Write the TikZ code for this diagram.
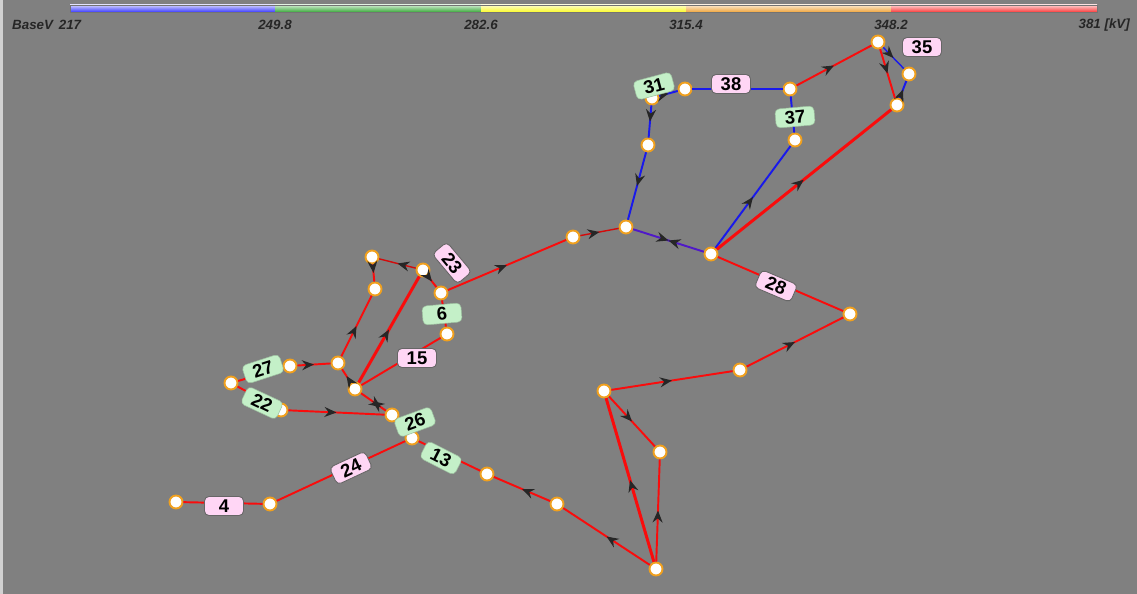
\documentclass[tikz,border=0pt]{standalone}
\usepackage{fontspec}
\setmainfont{Liberation Sans}
\usetikzlibrary{arrows.meta, decorations.markings}

\definecolor{bggray}{RGB}{128,128,128}
\definecolor{busring}{RGB}{240,160,30}
\definecolor{linered}{RGB}{250,12,12}
\definecolor{lineblue}{RGB}{25,25,235}
\definecolor{linepurple}{RGB}{80,25,200}
\definecolor{tagpink}{RGB}{255,214,245}
\definecolor{taggreen}{RGB}{196,240,200}
\definecolor{barblue}{RGB}{60,60,255}
\definecolor{bargreen}{RGB}{60,170,60}
\definecolor{baryellow}{RGB}{250,250,40}
\definecolor{barorange}{RGB}{240,165,60}
\definecolor{barred}{RGB}{250,60,60}

\tikzset{
  bus/.style={circle, draw=busring, fill=white, line width=1.1pt, minimum size=0.26cm, inner sep=0pt},
  redline/.style={linered, line width=1.1pt},
  thickred/.style={linered, line width=1.7pt},
  thinred/.style={linered!85!black, line width=0.8pt},
  blueline/.style={lineblue, line width=1.1pt},
  purpleline/.style={linepurple, line width=1.1pt},
  flow/.style={postaction={decorate}, decoration={markings,
    mark=at position 0.5 with {\arrow[black!85]{Stealth[length=0.24cm, width=0.2cm, inset=0.08cm]}}}},
  flowboth/.style={postaction={decorate}, decoration={markings,
    mark=at position 0.5 with {\arrow[black!85]{Stealth[length=0.24cm, width=0.2cm, inset=0.08cm]}},
    mark=at position 0.5 with {\arrowreversed[black!85]{Stealth[length=0.24cm, width=0.2cm, inset=0.08cm]}}}},
  tag/.style={rounded corners=2.5pt, inner sep=1pt, minimum width=0.78cm, minimum height=0.38cm,
    font=\fontsize{10.5}{11}\selectfont\bfseries},
  pinktag/.style={tag, fill=tagpink, draw=black!60, line width=0.5pt},
  greentag/.style={tag, fill=taggreen, draw=taggreen!80!black, line width=0.3pt},
  scalelabel/.style={font=\fontsize{7.6}{8}\selectfont\bfseries\itshape, text=black!85}
}

\begin{document}
\begin{tikzpicture}[x=0.02cm, y=-0.02cm]
  % background
  \fill[bggray] (0,0) rectangle (1137,594);
  \fill[black!18] (0,0) rectangle (3,594);
  \useasboundingbox (0,0) rectangle (1137,594);

  % voltage scale
  \shade[top color=barblue!25!white, bottom color=barblue] (70,5) rectangle (275,12);
  \shade[top color=bargreen!25!white, bottom color=bargreen] (275,5) rectangle (481,12);
  \shade[top color=baryellow!25!white, bottom color=baryellow] (481,5) rectangle (686,12);
  \shade[top color=barorange!25!white, bottom color=barorange] (686,5) rectangle (891,12);
  \shade[top color=barred!25!white, bottom color=barred] (891,5) rectangle (1097,12);
  \draw[black!55, line width=0.5pt] (70,5) rectangle (1097,12);
  \node[scalelabel, anchor=west] (basev) at (6,25) {BaseV};
  \node[scalelabel] (v1) at (70,25) {217};
  \node[scalelabel] (v2) at (275,25) {249.8};
  \node[scalelabel] (v3) at (481,25) {282.6};
  \node[scalelabel] (v4) at (686,25) {315.4};
  \node[scalelabel] (v5) at (891,25) {348.2};
  \node[scalelabel, anchor=east] (v6) at (1136,25) {381 [kV]};

  % buses
  \node[bus] (n1) at (878,42) {};
  \node[bus] (n2) at (909,74) {};
  \node[bus] (n3) at (897,105) {};
  \node[bus] (n4) at (790,89) {};
  \node[bus] (n5) at (685,89) {};
  \node[bus] (n6) at (652,98) {};
  \node[bus] (n7) at (648,145) {};
  \node[bus] (n8) at (795,140) {};
  \node[bus] (n9) at (626,227) {};
  \node[bus] (n10) at (573,237) {};
  \node[bus] (n11) at (711,254) {};
  \node[bus] (n12) at (850,314) {};
  \node[bus] (n13) at (740,370) {};
  \node[bus] (n14) at (604,391) {};
  \node[bus] (n15) at (660,452) {};
  \node[bus] (n16) at (656,569) {};
  \node[bus] (n17) at (557,504) {};
  \node[bus] (n18) at (487,474) {};
  \node[bus] (n19) at (412,438) {};
  \node[bus] (n20) at (392,415) {};
  \node[bus] (n21) at (355,389) {};
  \node[bus] (n22) at (338,363) {};
  \node[bus] (n23) at (290,366) {};
  \node[bus] (n24) at (231,383) {};
  \node[bus] (n25) at (281,410) {};
  \node[bus] (n26) at (375,289) {};
  \node[bus] (n27) at (372,257) {};
  \node[bus] (n28) at (423,270) {};
  \node[bus] (n29) at (441,293) {};
  \node[bus] (n30) at (447,334) {};
  \node[bus] (n31) at (270,504) {};
  \node[bus] (n32) at (176,502) {};

  % blue branches
  \draw[blueline, flow] (n7) -- (n9);
  \draw[blueline, flow] (n6) -- (n7);
  \draw[blueline, flow] (n6) -- (n5);
  \draw[blueline] (n5) -- (n4);
  \draw[blueline] (n4) -- (n8);
  \draw[blueline, flow] (n11) -- (n8);
  \draw[blueline, line width=0.8pt, flow] (n1) -- (n2);
  \draw[blueline, flow] (n3) -- (n2);
  \draw[purpleline, flowboth] (n9) -- (n11);

  % red branches
  \draw[thinred, flow] (n10) -- (n9);
  \draw[redline, flow] (n29) -- (n10);
  \draw[thickred, flow] (n11) -- (n3);
  \draw[redline, flow] (n4) -- (n1);
  \draw[redline, flow] (n1) -- (n3);
  \draw[redline] (n11) -- (n12);
  \draw[redline, flow] (n13) -- (n12);
  \draw[redline, flow] (n14) -- (n13);
  \draw[redline, flow] (n14) -- (n15);
  \draw[thickred, flow] (n16) -- (n14);
  \draw[redline, flow] (n16) -- (n15);
  \draw[redline, flow] (n16) -- (n17);
  \draw[redline, flow] (n17) -- (n18);
  \draw[redline] (n18) -- (n19);
  \draw[redline] (n19) -- (n20);
  \draw[redline] (n19) -- (n31);
  \draw[redline] (n31) -- (n32);
  \draw[redline, postaction={decorate}, decoration={markings,
    mark=at position 0.55 with {\arrow[black!85]{Stealth[length=0.24cm, width=0.2cm, inset=0.08cm]}},
    mark=at position 0.2 with {\arrowreversed[black!85]{Stealth[length=0.24cm, width=0.2cm, inset=0.08cm]}}}]
    (n20) -- (n21);
  \draw[redline, flow] (n25) -- (n20);
  \draw[redline, flow] (n21) -- (n22);
  \draw[redline, flow] (n23) -- (n22);
  \draw[redline] (n23) -- (n24);
  \draw[redline] (n24) -- (n25);
  \draw[redline, flow] (n22) -- (n26);
  \draw[redline, flow] (n27) -- (n26);
  \draw[thinred, flow] (n28) -- (n27);
  \draw[redline, flow] (n28) -- (n29);
  \draw[thickred, flow] (n21) -- (n28);
  \draw[redline] (n21) -- (n30);
  \draw[redline] (n29) -- (n30);

  % branch tags
  \node[greentag, rotate=15] (t31) at (654,86) {31};
  \node[pinktag] (t38) at (731,84) {38};
  \node[greentag, rotate=5] (t37) at (795,117) {37};
  \node[pinktag] (t35) at (922,47) {35};
  \node[pinktag, rotate=-23] (t28) at (776,286) {28};
  \node[pinktag, rotate=-50] (t23) at (452,263) {23};
  \node[greentag, rotate=5] (t6) at (442,314) {6};
  \node[pinktag] (t15) at (417,358) {15};
  \node[greentag, rotate=18] (t27) at (263,369) {27};
  \node[greentag, rotate=-25] (t22) at (262,403) {22};
  \node[greentag, rotate=20] (t26) at (415,422) {26};
  \node[greentag, rotate=-27] (t13) at (441,458) {13};
  \node[pinktag, rotate=25] (t24) at (351,468) {24};
  \node[pinktag] (t4) at (224,506) {4};
\end{tikzpicture}
\end{document}
